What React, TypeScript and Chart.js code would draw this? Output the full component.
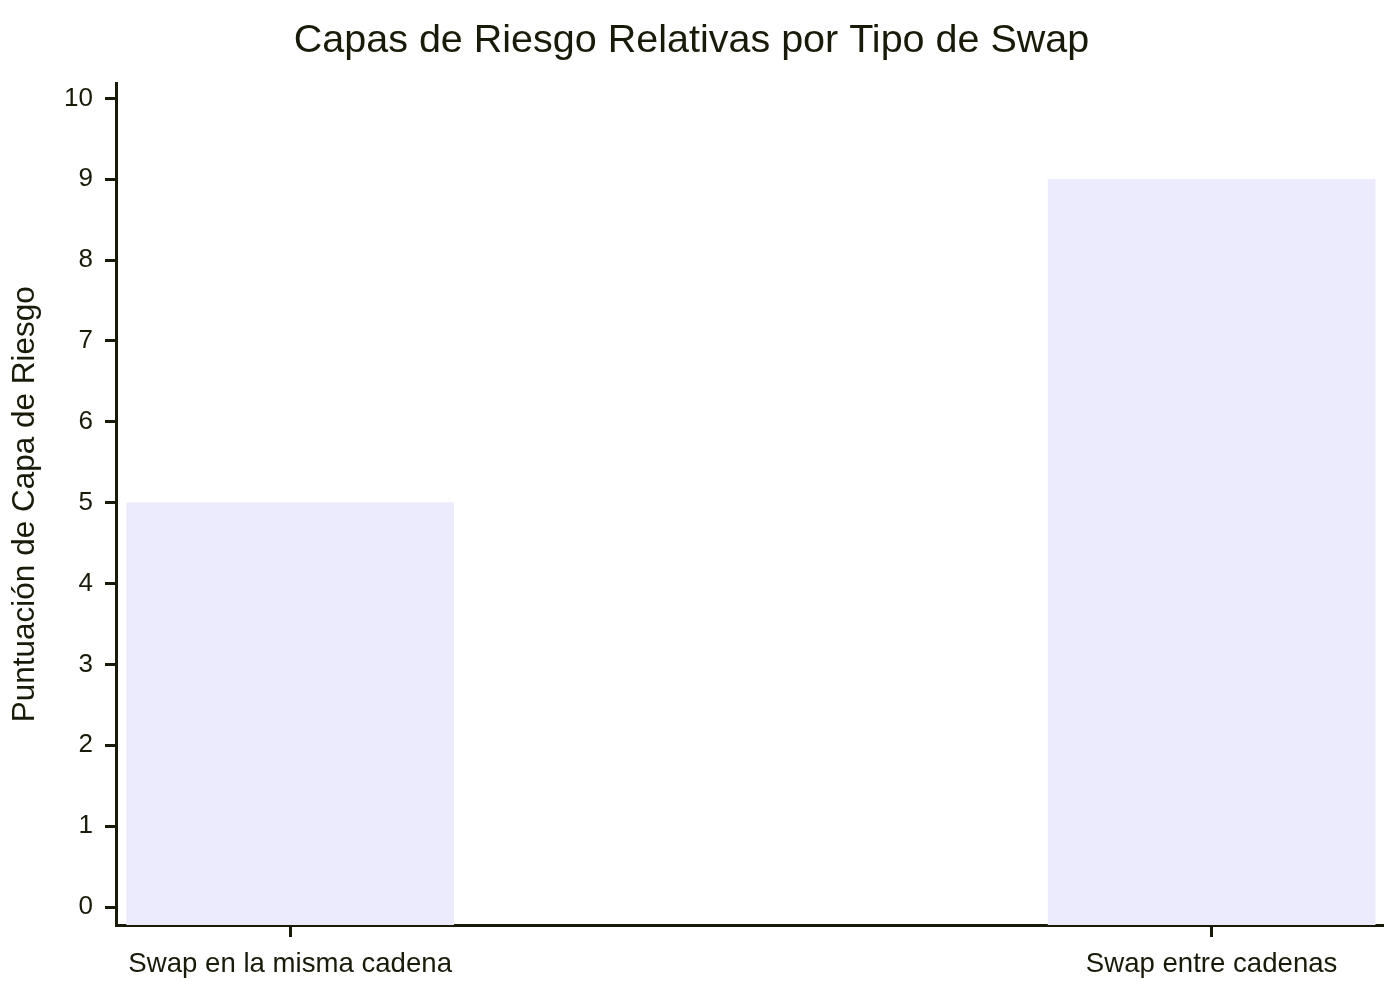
import { useEffect, useRef } from 'react';
import { Chart, ChartConfiguration, registerables } from 'chart.js';

Chart.register(...registerables);

const categories = ['Swap en la misma cadena', 'Swap entre cadenas'];
const riskScores = [5, 9];
const yTicks = [0, 1, 2, 3, 4, 5, 6, 7, 8, 9, 10];

const Y_MIN = -0.222;
const Y_MAX = 10.185;
const INK = '#1a1a0a';
const FONT = "'Liberation Sans', Arial, sans-serif";

export default function App() {
  const canvasRef = useRef<HTMLCanvasElement>(null);
  const chartRef = useRef<Chart | null>(null);

  useEffect(() => {
    if (!canvasRef.current) return;
    document.body.style.margin = '0';

    const config: ChartConfiguration = {
      type: 'bar',
      data: {
        datasets: [
          {
            label: 'Puntuación',
            data: categories.map((_, i) => ({ x: i, y: riskScores[i] })) as any,
            backgroundColor: '#ecebfd',
            borderWidth: 0,
            barThickness: 327,
            base: Y_MIN,
          } as any,
        ],
      },
      options: {
        animation: false,
        responsive: true,
        maintainAspectRatio: false,
        layout: { padding: { left: 0, right: 17, top: 0, bottom: 0 } },
        plugins: {
          legend: { display: false },
          tooltip: { enabled: false },
          title: {
            display: true,
            text: 'Capas de Riesgo Relativas por Tipo de Swap',
            color: INK,
            font: { family: FONT, size: 39.5, weight: 'normal' },
            padding: { top: 17, bottom: 19 },
          },
        },
        scales: {
          x: {
            type: 'linear',
            offset: false,
            min: -0.189,
            max: 1.186,
            afterBuildTicks: (scale) => {
              scale.ticks = categories.map((_, i) => ({ value: i }));
            },
            afterFit: (scale) => {
              scale.height = 75;
            },
            ticks: {
              color: INK,
              font: { family: FONT, size: 27.6 },
              padding: 11,
              autoSkip: false,
              maxRotation: 0,
              callback: (value) => categories[Number(value)],
            },
            grid: {
              offset: false,
              drawOnChartArea: false,
              drawTicks: true,
              tickLength: 12,
              tickWidth: 3,
              color: INK,
            },
            border: { display: true, color: INK, width: 3 },
          },
          y: {
            type: 'linear',
            min: Y_MIN,
            max: Y_MAX,
            afterBuildTicks: (scale) => {
              scale.ticks = yTicks.map((v) => ({ value: v }));
            },
            afterFit: (scale) => {
              scale.width = 116;
            },
            ticks: {
              color: INK,
              font: { family: FONT, size: 26 },
              padding: 12,
              callback: (value) => String(value),
            },
            grid: {
              drawOnChartArea: false,
              drawTicks: true,
              tickLength: 11,
              tickWidth: 3,
              color: INK,
            },
            border: { display: true, color: INK, width: 3 },
            title: {
              display: true,
              text: 'Puntuación de Capa de Riesgo',
              color: INK,
              font: { family: FONT, size: 31.5 },
              padding: { top: 6, bottom: 0 },
            },
          },
        },
      },
    };

    chartRef.current = new Chart(canvasRef.current, config);

    return () => {
      chartRef.current?.destroy();
    };
  }, []);

  return (
    <div style={{ width: '1400px', height: '1000px', position: 'relative', background: '#ffffff' }}>
      <canvas ref={canvasRef}></canvas>
    </div>
  );
}
